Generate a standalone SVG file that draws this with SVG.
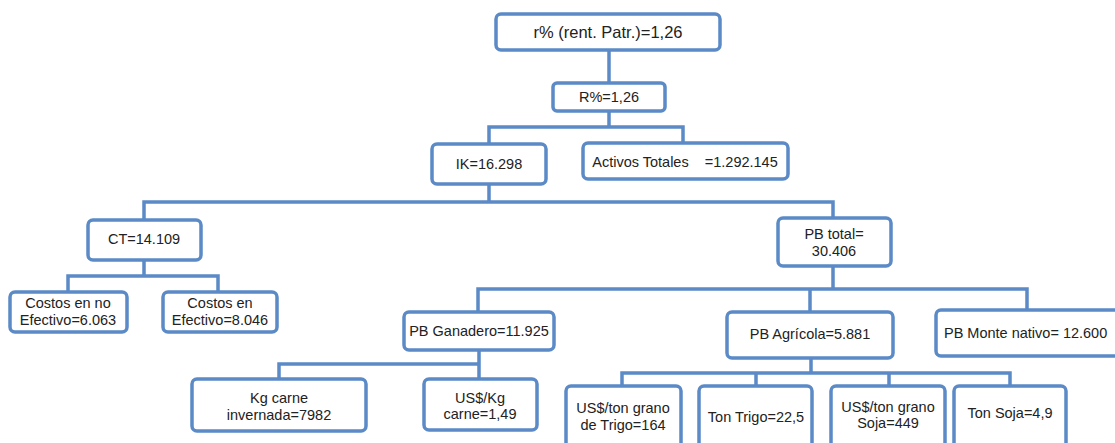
<svg xmlns="http://www.w3.org/2000/svg" width="1115" height="443" viewBox="0 0 1115 443">
<style>
.b{fill:#fff;stroke:#5b8ac6;stroke-width:3.5}
.c{fill:none;stroke:#5b8ac6;stroke-width:3.5;stroke-linejoin:miter}
text{font-family:"Liberation Sans",Arial,sans-serif;font-size:14.5px;fill:#222;text-anchor:middle}
.s{text-anchor:start}
</style>
<rect width="1115" height="443" fill="#fff"/>
<g id="connectors">
<path class="c" d="M609 50V83"/>
<path class="c" d="M609 111V127M489 144V127H683V143"/>
<path class="c" d="M489 184V202M144 220V202H833V218"/>
<path class="c" d="M144 260V276M68 292V276H218V292"/>
<path class="c" d="M833 266V289M478 312V289H1027V310M810 289V312"/>
<path class="c" d="M479 350V379M279 379V364H479"/>
<path class="c" d="M811 358V373M622 386V373H1010V386M756 373V386M889 373V386"/>
</g>
<g id="n-rent"><rect class="b" x="496" y="14" width="224" height="36" rx="5"/><text x="608" y="38" style="font-size:16.5px">r% (rent. Patr.)=1,26</text></g>
<g id="n-R"><rect class="b" x="553" y="83" width="112" height="28" rx="4"/><text x="609" y="102">R%=1,26</text></g>
<g id="n-IK"><rect class="b" x="432" y="144" width="114" height="40" rx="5"/><text x="489" y="169">IK=16.298</text></g>
<g id="n-activos"><rect class="b" x="583" y="143" width="205" height="36" rx="5"/><text x="685" y="167" xml:space="preserve">Activos Totales    =1.292.145</text></g>
<g id="n-CT"><rect class="b" x="88" y="220" width="113" height="40" rx="5"/><text x="144" y="244">CT=14.109</text></g>
<g id="n-PBtotal"><rect class="b" x="778" y="218" width="113" height="48" rx="5"/><text x="834" y="239">PB total=</text><text x="834" y="256">30.406</text></g>
<g id="n-costosno"><rect class="b" x="10" y="292" width="117" height="40" rx="5"/><text x="68" y="308">Costos en no</text><text x="68" y="325">Efectivo=6.063</text></g>
<g id="n-costosen"><rect class="b" x="163" y="292" width="114" height="40" rx="5"/><text x="220" y="308">Costos en</text><text x="220" y="325">Efectivo=8.046</text></g>
<g id="n-ganadero"><rect class="b" x="404" y="312" width="150" height="38" rx="5"/><text x="479" y="336">PB Ganadero=11.925</text></g>
<g id="n-agricola"><rect class="b" x="727" y="312" width="166" height="46" rx="5"/><text x="810" y="339">PB Agrícola=5.881</text></g>
<g id="n-monte"><rect class="b" x="936" y="310" width="200" height="46" rx="5"/><text class="s" x="944" y="338">PB Monte nativo= 12.600</text></g>
<g id="n-kg"><rect class="b" x="192" y="379" width="174" height="52" rx="5"/><text x="279" y="403">Kg carne</text><text x="279" y="420">invernada=7982</text></g>
<g id="n-usdkg"><rect class="b" x="424" y="379" width="113" height="51" rx="5"/><text x="480" y="403">US$/Kg</text><text x="480" y="419">carne=1,49</text></g>
<g id="n-usdtrigo"><rect class="b" x="566" y="386" width="115" height="70" rx="5"/><text x="623" y="413">US$/ton grano</text><text x="623" y="430">de Trigo=164</text></g>
<g id="n-trigo"><rect class="b" x="699" y="386" width="113" height="70" rx="5"/><text x="756" y="422">Ton Trigo=22,5</text></g>
<g id="n-usdsoja"><rect class="b" x="831" y="386" width="114" height="70" rx="5"/><text x="888" y="412">US$/ton grano</text><text x="888" y="428">Soja=449</text></g>
<g id="n-soja"><rect class="b" x="954" y="386" width="112" height="70" rx="5"/><text x="1010" y="418">Ton Soja=4,9</text></g>
</svg>
